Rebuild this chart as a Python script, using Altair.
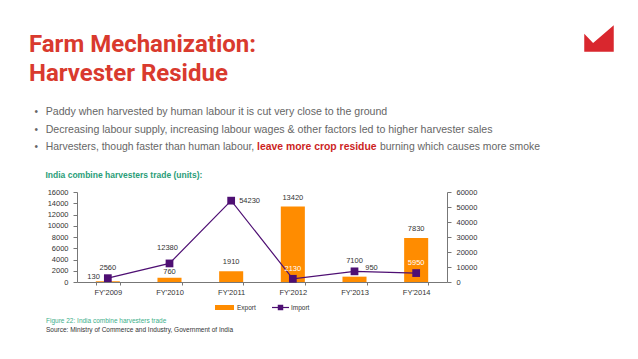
import altair as alt
import pandas as pd

# ---- data ----
years = ["FY'2009", "FY'2010", "FY'2011", "FY'2012", "FY'2013", "FY'2014"]
export_units = [130, 760, 1910, 13420, 950, 7830]
import_units = [2560, 12380, 54230, 2130, 7100, 5950]

title_lines = ["Farm Mechanization:", "Harvester Residue"]
bullets = [
    "Paddy when harvested by human labour it is cut very close to the ground",
    "Decreasing labour supply, increasing labour wages & other factors led to higher harvester sales",
]
bullet3 = ["Harvesters, though faster than human labour,", "leave more crop residue",
           "burning which causes more smoke"]
chart_title = "India combine harvesters trade (units):"
caption = "Figure 22: India combine harvesters trade"
source = "Source: Ministry of Commerce and Industry, Government of India"
left_ticks = list(range(0, 16001, 2000))
right_ticks = list(range(0, 60001, 10000))

df = pd.DataFrame({"year": years, "export": export_units, "import": import_units})

ORANGE = "#FF8C00"
PURPLE = "#4E0F73"
RED = "#D93A2E"
GRAY = "#666666"
GREEN = "#2A9D78"
FONT = "Liberation Sans"

# plot origin in page coords: (77, 192)
OX, OY = 77, 192


def px(x):
    return alt.value(x - OX)


def py(y):
    return alt.value(y - OY)


xenc = alt.X("year:N", sort=years, title=None,
             scale=alt.Scale(paddingInner=0.61, paddingOuter=0.305),
             axis=alt.Axis(labelAngle=0, tickBand="extent", labelFont=FONT, labelFontSize=7.5,
                           labelColor="#333", domainColor="#777", tickColor="#777",
                           tickSize=3, labelPadding=3))

left_axis = alt.Axis(values=left_ticks, orient="left", grid=False, format="d",
                     labelFont=FONT, labelFontSize=7.5, labelColor="#333",
                     domainColor="#777", tickColor="#777", tickSize=4, labelPadding=5)
right_axis = alt.Axis(values=right_ticks, orient="right", grid=False, format="d",
                      labelFont=FONT, labelFontSize=7.5, labelColor="#333",
                      domainColor="#777", tickColor="#777", tickSize=4, labelPadding=5)

yexp = alt.Y("export:Q", scale=alt.Scale(domain=[0, 16000], nice=False), title=None,
             axis=left_axis)
yimp = alt.Y("import:Q", scale=alt.Scale(domain=[0, 60000], nice=False), title=None,
             axis=right_axis)

base = alt.Chart(df)
TXT = dict(font=FONT, fontSize=7.5, baseline="middle")


def only(*yrs):
    return alt.FieldOneOfPredicate(field="year", oneOf=list(yrs))


bars = base.mark_bar(color=ORANGE).encode(x=xenc, y=yexp)
exp_txt_main = base.mark_text(color="#333", dy=-9, **TXT).encode(
    x=xenc, y=yexp, text="export:Q").transform_filter(only("FY'2011", "FY'2012", "FY'2014"))
exp_txt_760 = base.mark_text(color="#333", dy=-5.5, **TXT).encode(
    x=xenc, y=yexp, text="export:Q").transform_filter(only("FY'2010"))
exp_txt_130 = base.mark_text(color="#333", dx=-8, dy=-4, align="right", **TXT).encode(
    x=xenc, y=yexp, text="export:Q").transform_filter(only("FY'2009"))
exp_txt_950 = base.mark_text(color="#333", dx=17, dy=-9, **TXT).encode(
    x=xenc, y=yexp, text="export:Q").transform_filter(only("FY'2013"))

export_layer = alt.layer(bars, exp_txt_main, exp_txt_760, exp_txt_130, exp_txt_950)

line = base.mark_line(color=PURPLE, strokeWidth=1.2).encode(x=xenc, y=yimp)
pts = base.mark_point(shape="square", filled=True, size=60, color=PURPLE, opacity=1).encode(
    x=xenc, y=yimp)
imp_above = base.mark_text(dy=-10, **TXT).encode(
    x=xenc, y=yimp, text="import:Q",
    color=alt.condition(only("FY'2012", "FY'2014"), alt.value("white"), alt.value("#333")),
).transform_filter(only("FY'2009", "FY'2012", "FY'2013", "FY'2014"))
imp_12380 = base.mark_text(color="#333", dy=-15, dx=-2, **TXT).encode(
    x=xenc, y=yimp, text="import:Q").transform_filter(only("FY'2010"))
imp_54230 = base.mark_text(color="#333", dx=8, align="left", **TXT).encode(
    x=xenc, y=yimp, text="import:Q").transform_filter(only("FY'2011"))

import_layer = alt.layer(line, pts, imp_above, imp_12380, imp_54230)

# ---- decorations (slide text, legend, logo) ----
one = pd.DataFrame({"k": [0]})


def txt(s, x, y, size, color, weight="normal", font=FONT, baseline="alphabetic"):
    return alt.Chart(pd.DataFrame({"t": [s]})).mark_text(
        align="left", baseline=baseline, font=font, fontSize=size, fontWeight=weight,
        color=color).encode(text="t:N", x=px(x), y=py(y))


BF = 10.6
BF3 = 10.4
deco = [
    txt(title_lines[0], 29, 52.3, 24, RED, "bold", "Roboto"),
    txt(title_lines[1], 29, 81, 24, RED, "bold", "Roboto"),
]
for i, b in enumerate(bullets):
    yb = [114.5, 132.5][i]
    deco.append(txt("\u2022", 34.5, yb, 10, GRAY))
    deco.append(txt(b, 45.7, yb, BF, GRAY))
deco.append(txt("\u2022", 34.5, 150, 10, GRAY))
deco.append(txt(bullet3[0], 45.7, 150, BF3, GRAY))
deco.append(txt(bullet3[1], 257, 150, BF3, "#CC1F1F", "bold"))
deco.append(txt(bullet3[2], 380, 150, BF3, GRAY))
deco.append(txt(chart_title, 45.5, 175, 8.5, GREEN, "bold", baseline="middle"))
deco.append(txt(caption, 46, 321, 6.5, "#3DAF8A", baseline="middle"))
deco.append(txt(source, 46, 330, 6.5, "#333", baseline="middle"))

# legend
deco.append(alt.Chart(one).mark_rect(color=ORANGE).encode(
    x=px(215), x2=px(234), y=py(305), y2=py(310)))
deco.append(txt("Export", 237, 307.5, 6.5, "#333", baseline="middle"))
deco.append(alt.Chart(one).mark_rule(color=PURPLE, strokeWidth=1.2).encode(
    x=px(272), x2=px(289), y=py(307.5)))
deco.append(alt.Chart(one).mark_point(shape="square", filled=True, size=30, color=PURPLE,
                                      opacity=1).encode(x=px(280.5), y=py(307.5)))
deco.append(txt("Import", 291, 307.5, 6.5, "#333", baseline="middle"))

# logo
logo_path = "M -1 -0.33 L -0.4 0.3 L 1 -0.9 L 1 0.9 L -1 0.9 Z"
deco.append(alt.Chart(one).mark_point(shape=logo_path, filled=True, size=870, color="#D9272E",
                                      opacity=1, strokeWidth=0).encode(x=px(599), y=py(38.5)))

chart = alt.layer(export_layer, import_layer, *deco).resolve_scale(y="independent").properties(
    width=370, height=90,
    autosize=alt.AutoSizeParams(type="none"),
    padding={"left": 69, "top": 184, "right": 183, "bottom": 69},
    background="white",
).configure_view(stroke=None)

chart.save("out.html", embed_options={"renderer": "svg", "actions": False})
